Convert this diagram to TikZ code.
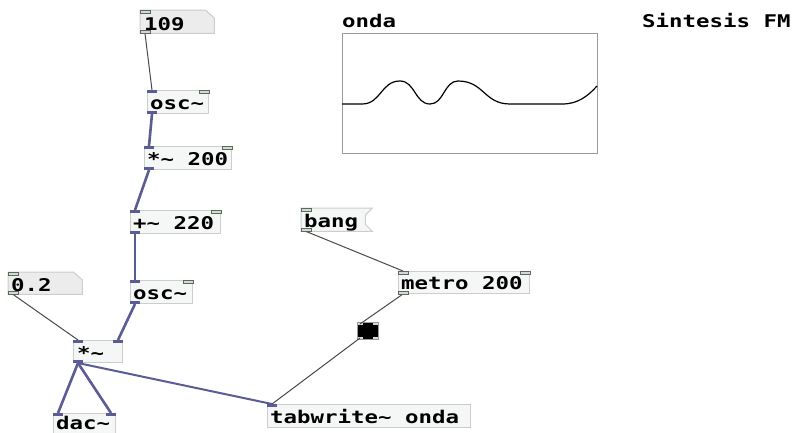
\documentclass[tikz,border=0pt]{standalone}
\usepackage{fontspec}
\newfontfamily\pdfont[FakeStretch=1.28]{DejaVu Sans Mono}
\usetikzlibrary{calc}
\definecolor{sigcol}{HTML}{5C5C94}
\definecolor{ctlcol}{HTML}{4A4A4A}
\definecolor{boxfill}{HTML}{F5F6F6}
\definecolor{boxline}{HTML}{CDCDCD}
\definecolor{numfill}{HTML}{ECECEC}
\definecolor{iofill}{HTML}{D4DBD4}
\definecolor{ioline}{HTML}{5A6A5A}
\definecolor{graphline}{HTML}{9A9A9A}
\begin{document}
\begin{tikzpicture}[x=1pt,y=-1pt,
  pdtext/.style={font=\pdfont\bfseries\fontsize{17.5}{19}\selectfont, text=black, inner sep=0pt, anchor=base west},
  obj/.style={draw=boxline, fill=boxfill, line width=1pt, anchor=north west, inner sep=0pt},
  objsize/.style 2 args={minimum width=#1, minimum height=#2},
  hidden/.style={draw=none, fill=none, anchor=north west, inner sep=0pt},
  numshape/.style={draw=boxline, fill=numfill, line width=1pt},
  sigio/.style={fill=sigcol},
  ctlio/.style={fill=iofill, draw=ioline, line width=0.7pt},
  sigwire/.style={draw=sigcol, line width=2.6pt},
  ctlwire/.style={draw=ctlcol, line width=1pt},
]
\useasboundingbox (0,0) rectangle (798,432);
\fill[white] (0,0) rectangle (798,432);

% ---------- objects ----------
% number box 109
\node[hidden, objsize={74}{23}] (n109) at (140,10) {};
\draw[numshape] (n109.north west) -- ($(n109.north east)+(-9,0)$) -- ($(n109.north east)+(0,8)$) -- (n109.south east) -- (n109.south west) -- cycle;
\node[pdtext] (t109) at ($(n109.north west)+(4,20)$) {109};

% osc~ (top)
\node[obj, objsize={61}{23}] (osc1) at (147,90) {};
\node[pdtext] (tosc1) at ($(osc1.north west)+(3,19)$) {osc\textasciitilde};

% *~ 200
\node[obj, objsize={87}{23}] (mul200) at (144,146) {};
\node[pdtext] (tmul200) at ($(mul200.north west)+(3,19)$) {*\textasciitilde{} 200};

% +~ 220
\node[obj, objsize={90}{23}] (add220) at (130,210) {};
\node[pdtext] (tadd220) at ($(add220.north west)+(3,19)$) {+\textasciitilde{} 220};

% osc~ (lower)
\node[obj, objsize={62}{23}] (osc2) at (130,280) {};
\node[pdtext] (tosc2) at ($(osc2.north west)+(3,19)$) {osc\textasciitilde};

% number box 0.2
\node[hidden, objsize={74}{22}] (n02) at (8,272) {};
\draw[numshape] (n02.north west) -- ($(n02.north east)+(-9,0)$) -- ($(n02.north east)+(0,8)$) -- (n02.south east) -- (n02.south west) -- cycle;
\node[pdtext] (t02) at ($(n02.north west)+(3,19)$) {0.2};

% *~
\node[obj, objsize={49}{22}] (mul) at (73,340) {};
\node[pdtext] (tmul) at ($(mul.north west)+(4,19)$) {*\textasciitilde};

% dac~
\node[obj, objsize={62}{30}] (dac) at (53,413) {};
\node[pdtext] (tdac) at ($(dac.north west)+(3,16)$) {dac\textasciitilde};

% tabwrite~ onda
\node[obj, objsize={203}{23}] (tabw) at (267,404) {};
\node[pdtext] (ttabw) at ($(tabw.north west)+(3,19)$) {tabwrite\textasciitilde{} onda};

% message bang
\node[hidden, objsize={71}{23}] (bang) at (301,208) {};
\draw[numshape, fill=boxfill] (bang.north west) -- (bang.north east) -- ($(bang.north east)+(-7,7)$) -- ($(bang.south east)+(-7,-7)$) -- (bang.south east) -- (bang.south west) -- cycle;
\node[pdtext] (tbang) at ($(bang.north west)+(3,19)$) {bang};

% metro 200
\node[obj, objsize={131}{22}] (metro) at (398,271) {};
\node[pdtext] (tmetro) at ($(metro.north west)+(3,18)$) {metro 200};

% bng
\node[obj, draw=graphline, fill=black, objsize={21}{17}] (bng) at (357,322) {};
\fill[black] (bng.center) circle (8);
\fill[iofill] (bng.north west) ++(1,1) rectangle ++(5,2);
\fill[iofill] (bng.north east) ++(-1,1) rectangle ++(-5,2);
\fill[iofill] (bng.south west) ++(1,-1) rectangle ++(5,-2);
\fill[iofill] (bng.south east) ++(-1,-1) rectangle ++(-5,-2);

% graph onda
\node[hidden, draw=graphline, line width=1pt, objsize={255}{120}] (graph) at (342,33) {};
\node[pdtext] (tgraph) at (342,27) {onda};
\draw[black, line width=1.2pt] (graph.west |- 0,104) -- (362,104)
  .. controls (381,104) and (381,81) .. (400,81)
  .. controls (415,81) and (415,104) .. (430,104)
  .. controls (444,104) and (444,81) .. (458,81)
  .. controls (484,81) and (484,104) .. (510,104)
  -- (562,104)
  .. controls (578,104) and (588,96) .. (597,86);

% comment
\node[pdtext] (title) at (642,27) {Sintesis FM};

% ---------- connections ----------
\draw[ctlwire] ($(n109.south west)+(5,0)$) -- ($(osc1.north west)+(5,0)$);
\draw[sigwire] ($(osc1.south west)+(5,0)$) -- ($(mul200.north west)+(5,0)$);
\draw[sigwire] ($(mul200.south west)+(5,0)$) -- ($(add220.north west)+(5,0)$);
\draw[sigwire] ($(add220.south west)+(5,0)$) -- ($(osc2.north west)+(5,0)$);
\draw[sigwire] ($(osc2.south west)+(5,0)$) -- ($(mul.north east)+(-5,0)$);
\draw[ctlwire] ($(n02.south west)+(5,0)$) -- ($(mul.north west)+(5,0)$);
\draw[sigwire] ($(mul.south west)+(5,0)$) -- ($(dac.north west)+(5,0)$);
\draw[sigwire] ($(mul.south west)+(5,0)$) -- ($(dac.north east)+(-5,0)$);
\draw[sigwire, line width=2pt] ($(mul.south west)+(5,0)$) -- ($(tabw.north west)+(5,0)$);
\draw[ctlwire] ($(bang.south west)+(5,0)$) -- ($(metro.north west)+(5,0)$);
\draw[ctlwire] ($(metro.south west)+(5,0)$) -- ($(bng.north west)+(3,2)$);
\draw[ctlwire] ($(bng.south west)+(3,-2)$) -- ($(tabw.north west)+(5,0)$);

% ---------- iolets ----------
% 109
\draw[ctlio] (n109.north west) rectangle ++(10,3);
\draw[ctlio] (n109.south west) rectangle ++(10,-3);
% osc1
\fill[sigio] (osc1.north west) rectangle ++(10,3);
\draw[ctlio] (osc1.north east) rectangle ++(-10,3);
\fill[sigio] (osc1.south west) rectangle ++(10,-3);
% mul200
\fill[sigio] (mul200.north west) rectangle ++(10,3);
\draw[ctlio] (mul200.north east) rectangle ++(-10,3);
\fill[sigio] (mul200.south west) rectangle ++(10,-3);
% add220
\fill[sigio] (add220.north west) rectangle ++(10,3);
\draw[ctlio] (add220.north east) rectangle ++(-10,3);
\fill[sigio] (add220.south west) rectangle ++(10,-3);
% osc2
\fill[sigio] (osc2.north west) rectangle ++(10,3);
\draw[ctlio] (osc2.north east) rectangle ++(-10,3);
\fill[sigio] (osc2.south west) rectangle ++(10,-3);
% 0.2
\draw[ctlio] (n02.north west) rectangle ++(10,3);
\draw[ctlio] (n02.south west) rectangle ++(10,-3);
% mul
\fill[sigio] (mul.north west) rectangle ++(10,3);
\fill[sigio] (mul.north east) rectangle ++(-10,3);
\fill[sigio] (mul.south west) rectangle ++(10,-3);
% dac
\fill[sigio] (dac.north west) rectangle ++(10,3);
\fill[sigio] (dac.north east) rectangle ++(-10,3);
% tabwrite
\fill[sigio] (tabw.north west) rectangle ++(10,3);
% bang
\draw[ctlio] (bang.north west) rectangle ++(10,3);
\draw[ctlio] (bang.south west) rectangle ++(10,-3);
% metro
\draw[ctlio] (metro.north west) rectangle ++(10,3);
\draw[ctlio] (metro.north east) rectangle ++(-10,3);
\draw[ctlio] (metro.south west) rectangle ++(10,-3);
\end{tikzpicture}
\end{document}
